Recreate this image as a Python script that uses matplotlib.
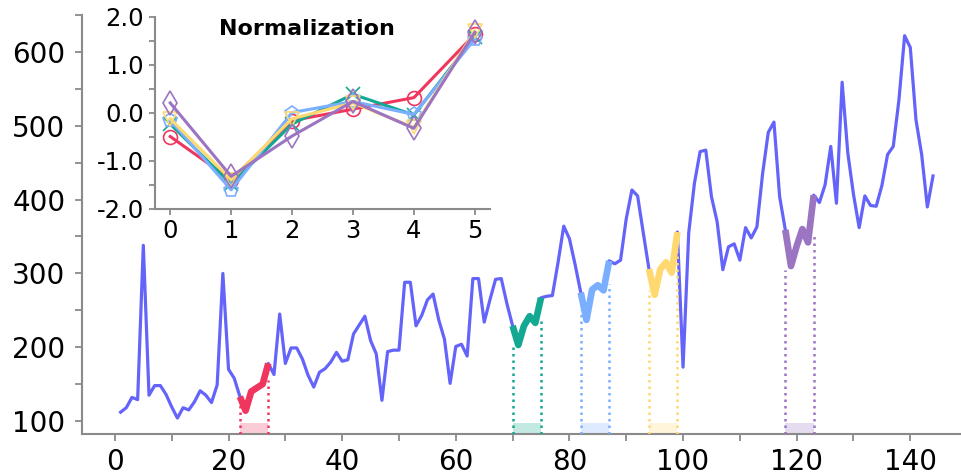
import matplotlib
matplotlib.use("Agg")
import matplotlib.pyplot as plt
import numpy as np
from matplotlib.ticker import MultipleLocator, FormatStrFormatter

plt.rcParams['font.family'] = ['DejaVu Sans']
plt.rcParams['axes.unicode_minus'] = False

# ---- data ----
months = list(range(1, 145))
values = [112, 118, 132, 129, 338, 135, 148, 148, 136, 119, 104, 118,
          115, 126, 141, 135, 125, 149, 300, 170, 158, 133, 114, 140,
          145, 150, 178, 163, 245, 178, 199, 199, 184, 162, 146, 166,
          171, 180, 193, 181, 183, 218, 230, 242, 209, 191, 128, 194,
          196, 196, 288, 288, 229, 243, 264, 272, 237, 211, 151, 201,
          204, 188, 293, 293, 234, 264, 292, 293, 259, 229, 203, 229,
          242, 233, 267, 269, 270, 315, 364, 347, 312, 274, 237, 278,
          284, 277, 317, 313, 318, 374, 413, 405, 355, 306, 271, 306,
          315, 301, 356, 173, 355, 422, 465, 467, 404, 370, 305, 336,
          340, 318, 362, 348, 363, 435, 491, 505, 404, 359, 310, 337,
          360, 342, 406, 396, 420, 472, 395, 559, 463, 407, 362, 405,
          392, 391, 419, 461, 472, 535, 622, 606, 508, 461, 390, 432]

seg_starts = [22, 70, 82, 94, 118]
seg_len = 6
guide_top_left = [135, 205, 250, 277, 304]
guide_top_right = [155, 240, 286, 331, 354]

norm_x = [0, 1, 2, 3, 4, 5]
norm_red = [-0.49, -1.39, -0.16, 0.08, 0.32, 1.64]
norm_green = [-0.23, -1.48, -0.23, 0.39, -0.04, 1.59]
norm_blue = [-0.15, -1.60, 0.01, 0.24, -0.03, 1.54]
norm_yellow = [-0.12, -1.39, -0.12, 0.21, -0.30, 1.71]
norm_purple = [0.21, -1.32, -0.48, 0.24, -0.32, 1.68]

# ---- style ----
main_color = '#6464FA'
seg_colors = ['#F0365E', '#13A892', '#7AAEFF', '#FFD870', '#9B74C2']
seg_markers = ['o', 'x', 'p', 'v', 'd']
spine_gray = '#8a8a8a'

fig = plt.figure(figsize=(9.62, 4.75), dpi=100)
ax = fig.add_axes([0.0852, 0.0863, 0.9148, 0.882])

ymin, ymax = 82.4, 650
ax.plot(months, values, color=main_color, lw=2.3, zorder=2)

for i, s in enumerate(seg_starts):
    c = seg_colors[i]
    xs = months[s - 1:s - 1 + seg_len]
    ys = values[s - 1:s - 1 + seg_len]
    ax.plot(xs, ys, color=c, lw=4.8, zorder=4, solid_capstyle='butt')
    x0, x1 = xs[0], xs[-1]
    ax.plot([x0, x0], [ymin, guide_top_left[i]], color=c, lw=1.8,
            ls=(0, (1, 1.6)), zorder=3)
    ax.plot([x1, x1], [ymin, guide_top_right[i]], color=c, lw=1.8,
            ls=(0, (1, 1.6)), zorder=3)
    ax.fill_between([x0, x1], ymin, 97.5, color=c, alpha=0.25, lw=0, zorder=1)

ax.set_xlim(-5.8, 149.1)
ax.set_ylim(ymin, ymax)
for sp in ['top', 'right']:
    ax.spines[sp].set_visible(False)
for sp in ['left', 'bottom']:
    ax.spines[sp].set_color(spine_gray)
    ax.spines[sp].set_linewidth(1.5)
ax.xaxis.set_major_locator(MultipleLocator(20))
ax.xaxis.set_minor_locator(MultipleLocator(10))
ax.yaxis.set_major_locator(MultipleLocator(100))
ax.yaxis.set_minor_locator(MultipleLocator(50))
ax.tick_params(which='both', direction='out', length=5, width=1.3,
               color=spine_gray, labelsize=20)
ax.tick_params(axis='y', pad=7)
ax.tick_params(axis='x', pad=5)

# ---- inset ----
axin = fig.add_axes([155 / 962, (475 - 209) / 475, 335 / 962, 192 / 475])
axin.patch.set_alpha(0)
series = [norm_red, norm_green, norm_blue, norm_yellow, norm_purple]
for i, ser in enumerate(series):
    c = seg_colors[i]
    axin.plot(norm_x, ser, color=c, lw=2.2, marker=seg_markers[i],
              markersize=10 if seg_markers[i] != 'd' else 12,
              markerfacecolor='none', markeredgecolor=c, markeredgewidth=1.2)
axin.set_ylim(-2, 2)
axin.set_xlim(-0.25, 5.25)
for sp in ['top', 'right']:
    axin.spines[sp].set_visible(False)
for sp in ['left', 'bottom']:
    axin.spines[sp].set_color(spine_gray)
    axin.spines[sp].set_linewidth(1.5)
axin.xaxis.set_major_locator(MultipleLocator(1))
axin.yaxis.set_major_locator(MultipleLocator(1))
axin.yaxis.set_minor_locator(MultipleLocator(0.5))
axin.yaxis.set_major_formatter(FormatStrFormatter('%.1f'))
axin.tick_params(which='both', direction='out', length=4, width=1.3,
                 color=spine_gray, labelsize=17.5)
axin.tick_params(axis='y', pad=4)
axin.tick_params(axis='x', pad=3)
axin.text(0.454, 0.94, 'Normalization', transform=axin.transAxes,
          ha='center', va='center', fontsize=16, fontweight='bold')

fig.savefig('out.png', dpi=100)
